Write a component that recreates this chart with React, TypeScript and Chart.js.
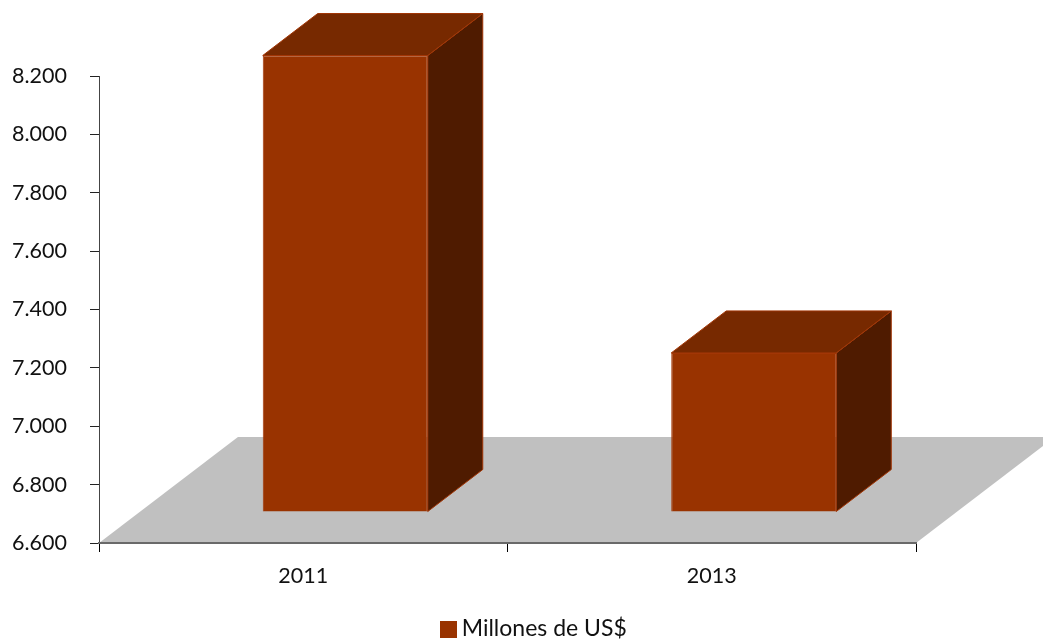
import React, { useEffect, useRef } from "react";
import { Chart, registerables } from "chart.js";

Chart.register(...registerables);

const categories = ["2011", "2013"];
const seriesName = "Millones de US$";
const seriesValues = [8164, 7145];
const axisMin = 6600;
const axisMax = 8200;
const yTickLabels = ["6.600", "6.800", "7.000", "7.200", "7.400", "7.600", "7.800", "8.000", "8.200"];

const FRONT = "#993300";
const TOP = "#772900";
const SIDE = "#4F1B00";
const EDGE = "#A23606";
const FLOOR = "#C0C0C0";
const FONT = "Lato, Carlito, sans-serif";

// Oblique projection used for the pseudo-3D look
const SLOPE = 0.763;
const FLOOR_DEPTH = 106;
const BAR_SHIFT_X = 42;
const BAR_SHIFT_Y = 31;
const BAR_DEPTH_X = 55;
const BAR_DEPTH_Y = 42;

const LEGEND_FONT = 23;
const LEGEND_NATIVE_BOX = 11;
const SWATCH = 17;
const SWATCH_GAP = 2;

function quad(ctx: CanvasRenderingContext2D, pts: number[][], fill: string, stroke?: string) {
  ctx.beginPath();
  pts.forEach(([x, y], i) => (i ? ctx.lineTo(x, y) : ctx.moveTo(x, y)));
  ctx.closePath();
  ctx.fillStyle = fill;
  ctx.fill();
  if (stroke) {
    ctx.strokeStyle = stroke;
    ctx.lineWidth = 1;
    ctx.stroke();
  }
}

const oblique3d = {
  id: "oblique3d",
  afterLayout(chart: any) {
    // Centre the legend over the plot plus the floor's overhang, near the bottom edge
    const legend = chart.legend;
    legend.left += 75;
    legend.right += 75;
    legend.top += 11;
    legend.bottom += 11;
  },
  beforeDatasetsDraw(chart: any) {
    const { ctx, chartArea } = chart;
    const dx = FLOOR_DEPTH / SLOPE;
    ctx.save();
    quad(ctx, [
      [chartArea.left, chartArea.bottom],
      [chartArea.left + dx, chartArea.bottom - FLOOR_DEPTH],
      [chartArea.right + dx, chartArea.bottom - FLOOR_DEPTH],
      [chartArea.right, chartArea.bottom],
    ], FLOOR);
    chart.getDatasetMeta(0).data.forEach((bar: any) => {
      const l = bar.x - bar.width / 2 + BAR_SHIFT_X;
      const r = bar.x + bar.width / 2 + BAR_SHIFT_X;
      const t = bar.y - BAR_SHIFT_Y;
      const b = bar.base - BAR_SHIFT_Y;
      quad(ctx, [[r, t], [r + BAR_DEPTH_X, t - BAR_DEPTH_Y], [r + BAR_DEPTH_X, b - BAR_DEPTH_Y], [r, b]], SIDE, EDGE);
      quad(ctx, [[l, t], [l + BAR_DEPTH_X, t - BAR_DEPTH_Y], [r + BAR_DEPTH_X, t - BAR_DEPTH_Y], [r, t]], TOP, EDGE);
    });
    ctx.restore();
  },
  beforeDatasetDraw(chart: any) {
    chart.ctx.save();
    chart.ctx.translate(BAR_SHIFT_X, -BAR_SHIFT_Y);
  },
  afterDatasetDraw(chart: any) {
    chart.ctx.restore();
  },
  afterDraw(chart: any) {
    // Legend swatch sits closer to its text than the built-in gap allows
    const { ctx, legend } = chart;
    const lineWidth = legend.lineWidths[0];
    const start = (legend.left + legend.right - lineWidth) / 2;
    const textX = start + LEGEND_NATIVE_BOX + LEGEND_FONT / 2;
    const cy = legend.top + legend.height / 2 - 2;
    ctx.save();
    ctx.fillStyle = FRONT;
    ctx.fillRect(Math.round(textX - SWATCH_GAP - SWATCH), Math.round(cy - SWATCH / 2), SWATCH, SWATCH);
    ctx.restore();
  },
};

export default function App() {
  const ref = useRef<HTMLCanvasElement>(null);

  useEffect(() => {
    const chart = new Chart(ref.current as HTMLCanvasElement, {
      type: "bar",
      data: {
        labels: categories,
        datasets: [
          {
            label: seriesName,
            data: seriesValues,
            base: axisMin,
            backgroundColor: FRONT,
            borderColor: EDGE,
            borderWidth: 1,
            barPercentage: 0.404,
            categoryPercentage: 1,
            clip: false,
          } as any,
        ],
      },
      options: {
        responsive: false,
        animation: false,
        layout: { padding: { top: 76, right: 127, left: 0, bottom: 0 } },
        plugins: {
          tooltip: { enabled: false },
          legend: {
            position: "bottom",
            labels: {
              boxWidth: LEGEND_NATIVE_BOX,
              boxHeight: 11,
              padding: 5,
              color: "#111111",
              font: { family: FONT, size: LEGEND_FONT },
              generateLabels: () => [
                {
                  text: seriesName,
                  fillStyle: "rgba(0,0,0,0)",
                  strokeStyle: "rgba(0,0,0,0)",
                  lineWidth: 0,
                  fontColor: "#111111",
                  datasetIndex: 0,
                },
              ],
            },
          },
        },
        scales: {
          x: {
            afterFit(scale: any) {
              scale.height = 58;
            },
            border: { color: "#696969", width: 2, z: 1 },
            grid: { drawOnChartArea: false, tickLength: 9, tickColor: "#000000" },
            ticks: { color: "#111111", padding: 11, font: { family: FONT, size: 21.5 } },
          },
          y: {
            min: axisMin,
            max: axisMax,
            afterFit(scale: any) {
              scale.width = 99;
            },
            border: { color: "#444444", width: 1 },
            grid: { drawOnChartArea: false, tickLength: 9, tickColor: "#222222" },
            ticks: {
              stepSize: 200,
              padding: 23,
              color: "#111111",
              font: { family: FONT, size: 21.5 },
              callback: (_v: any, i: number) => yTickLabels[i],
            },
          },
        },
      },
      plugins: [oblique3d],
    } as any);
    return () => chart.destroy();
  }, []);

  return (
    <div style={{ position: "absolute", left: 0, top: 0, width: 1043, height: 639 }}>
      <canvas ref={ref} width={1043} height={639} style={{ display: "block" }} />
    </div>
  );
}
